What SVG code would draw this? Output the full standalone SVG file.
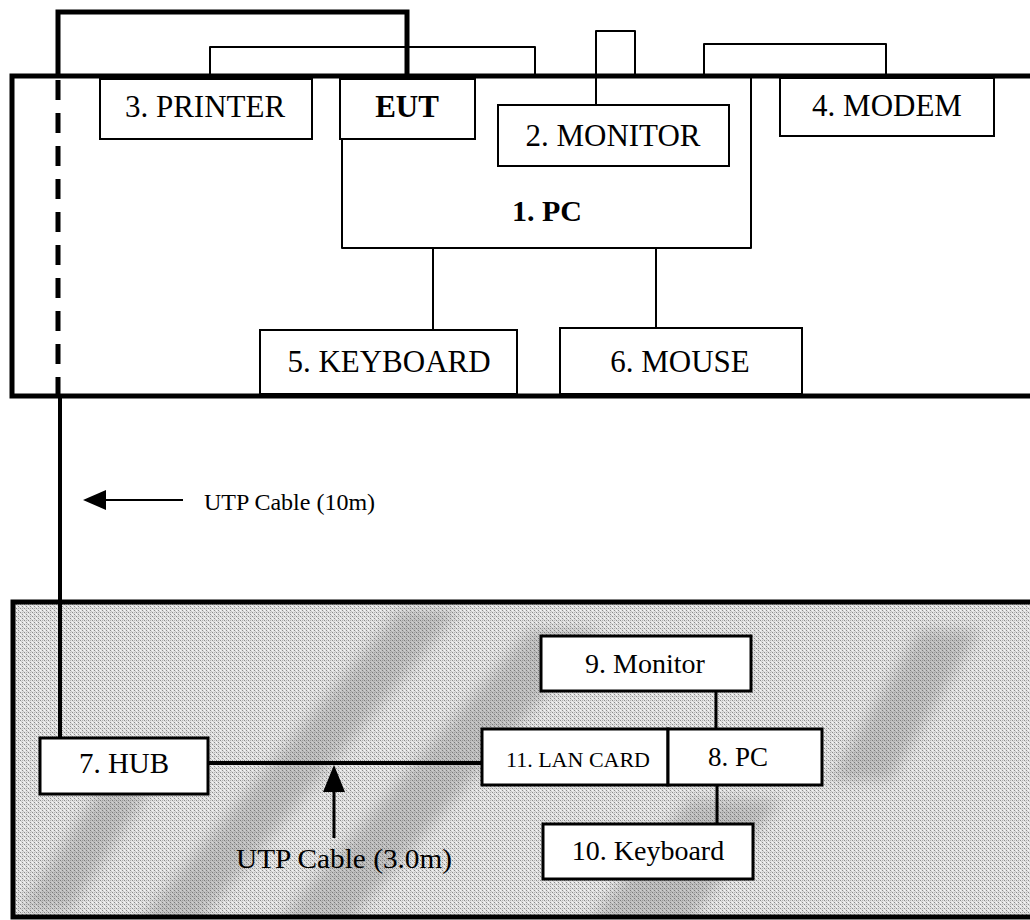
<svg xmlns="http://www.w3.org/2000/svg" width="1030" height="920" viewBox="0 0 1030 920">
<style>
text{font-family:"Liberation Serif","Times New Roman",serif;fill:#000}
.t31{font-size:31px}
.b{font-weight:bold}
.box{fill:#fff;stroke:#000;stroke-width:2}
.box3{fill:#fff;stroke:#000;stroke-width:3}
.frame{stroke:#000;stroke-width:5;fill:none}
.thin{fill:none;stroke:#000;stroke-width:2;stroke-linejoin:round}
.thick{fill:none;stroke:#000;stroke-width:5;stroke-linejoin:miter}
</style>
<defs>
<pattern id="half" width="4" height="4" patternUnits="userSpaceOnUse">
<rect width="4" height="4" fill="#e4e4e4"/>
<rect x="0" y="0" width="1" height="1" fill="#8a8a8a"/>
<rect x="2" y="2" width="1" height="1" fill="#8a8a8a"/>
<rect x="2" y="0" width="1" height="1" fill="#b5b5b5"/>
<rect x="0" y="2" width="1" height="1" fill="#f6f6f6"/>
<rect x="1" y="1" width="1" height="1" fill="#cacaca"/>
<rect x="3" y="3" width="1" height="1" fill="#c4c4c4"/>
</pattern>
<filter id="soft" x="-20%" y="-20%" width="140%" height="140%"><feGaussianBlur stdDeviation="7"/></filter>
<clipPath id="clipB"><rect x="13" y="602" width="1020" height="315"/></clipPath>
</defs>
<rect width="1030" height="920" fill="#fff"/>

<!-- bottom textured area -->
<rect x="13" y="602" width="1030" height="315" fill="url(#half)"/>
<g clip-path="url(#clipB)">
<g filter="url(#soft)" opacity="0.22" fill="#444">
<path d="M140,920 L200,920 L460,610 L400,610 z"/>
<path d="M280,920 L350,920 L600,630 L530,630 z"/>
<path d="M590,920 L690,920 L780,800 L690,800 z"/>
<path d="M830,780 L890,780 L980,630 L920,630 z"/>
<path d="M20,910 L70,910 L150,790 L100,790 z"/>
</g>
</g>
<rect x="13" y="602" width="1030" height="315" class="frame"/>

<!-- top frame -->
<rect x="12" y="76" width="1030" height="320" class="frame"/>

<g id="connectors">
<path class="thick" d="M58,76 L58,12 L407,12 L407,76"/>
<line x1="58" y1="80" x2="58" y2="396" stroke="#000" stroke-width="5" stroke-dasharray="20 13"/>
<line x1="60" y1="396" x2="60" y2="740" stroke="#000" stroke-width="4"/>
<path class="thin" d="M210,76 L210,47 L535,47 L535,76"/>
<path class="thin" d="M596,105 L596,31 L635,31 L635,76"/>
<path class="thin" d="M704,76 L704,44 L886,44 L886,76"/>
<line x1="433" y1="248" x2="433" y2="330" stroke="#000" stroke-width="2"/>
<line x1="656" y1="248" x2="656" y2="328" stroke="#000" stroke-width="2"/>
<line x1="183" y1="500" x2="100" y2="500" stroke="#000" stroke-width="2"/>
<path d="M83,500 L106,490 L106,510 z" fill="#000"/>
<line x1="208" y1="763" x2="482" y2="763" stroke="#000" stroke-width="4"/>
<line x1="334" y1="838" x2="334" y2="785" stroke="#000" stroke-width="3"/>
<path d="M334,765 L323,792 L345,792 z" fill="#000"/>
<line x1="716" y1="691" x2="716" y2="729" stroke="#000" stroke-width="3"/>
<line x1="717" y1="785" x2="717" y2="824" stroke="#000" stroke-width="3"/>
</g>

<g id="pc1">
<path class="thin" d="M342,139 L342,248 L751,248 L751,76"/>
<text class="b" x="547" y="221" text-anchor="middle" font-size="30">1. PC</text>
</g>
<g id="printer">
<rect class="box" x="100" y="79" width="212" height="60"/>
<text class="t31" x="205" y="117" text-anchor="middle">3. PRINTER</text>
</g>
<g id="eut">
<rect class="box" x="340" y="79" width="135" height="60"/>
<text class="t31 b" x="407" y="117" text-anchor="middle">EUT</text>
</g>
<g id="monitor">
<rect class="box" x="498" y="105" width="231" height="61"/>
<text class="t31" x="613" y="146" text-anchor="middle">2. MONITOR</text>
</g>
<g id="modem">
<rect class="box" x="780" y="78" width="214" height="58"/>
<text class="t31" x="887" y="116" text-anchor="middle">4. MODEM</text>
</g>
<g id="keyboard">
<rect class="box" x="260" y="330" width="257" height="64"/>
<text class="t31" x="389" y="372" text-anchor="middle">5. KEYBOARD</text>
</g>
<g id="mouse">
<rect class="box" x="560" y="328" width="242" height="66"/>
<text class="t31" x="680" y="372" text-anchor="middle">6. MOUSE</text>
</g>

<g id="utp10">
<text x="204" y="510" font-size="24">UTP Cable (10m)</text>
</g>

<g id="hub">
<rect class="box3" x="40" y="738" width="168" height="56"/>
<text x="124" y="773" font-size="29" text-anchor="middle">7. HUB</text>
</g>
<g id="monitor9">
<rect class="box3" x="541" y="636" width="210" height="55"/>
<text x="645" y="673" font-size="28" text-anchor="middle">9. Monitor</text>
</g>
<g id="lancard">
<rect class="box3" x="482" y="729" width="186" height="56"/>
<text x="578" y="767" font-size="22" text-anchor="middle">11. LAN CARD</text>
</g>
<g id="pc8">
<rect class="box3" x="668" y="729" width="154" height="56"/>
<text x="738" y="766" font-size="27" text-anchor="middle">8. PC</text>
</g>
<g id="keyboard10">
<rect class="box3" x="543" y="824" width="210" height="55"/>
<text x="648" y="860" font-size="28" text-anchor="middle">10. Keyboard</text>
</g>
<g id="utp3">
<text x="236" y="868" font-size="27" textLength="216" lengthAdjust="spacingAndGlyphs">UTP Cable (3.0m)</text>
</g>
</svg>
